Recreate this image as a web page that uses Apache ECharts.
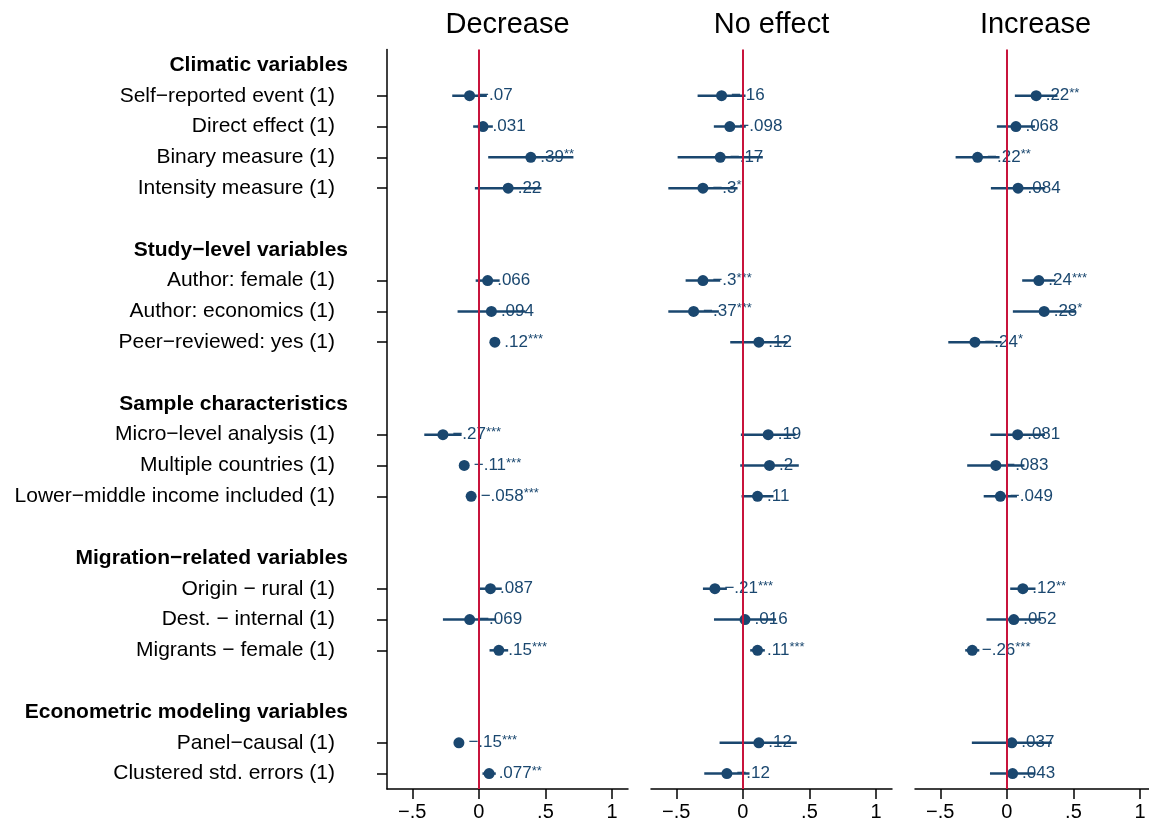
<!DOCTYPE html>
<html>
<head>
<meta charset="utf-8">
<script src="https://cdn.jsdelivr.net/npm/echarts@6/dist/echarts.min.js"></script>
<style>html,body{margin:0;padding:0;background:#fff}#c{width:1149px;height:822px}</style>
</head>
<body>
<div id="c"></div>
<script>
// ---- data ----
const panelTitles = ["Decrease", "No effect", "Increase"];
const groupNames = ["Climatic variables", "Study−level variables", "Sample characteristics", "Migration−related variables", "Econometric modeling variables"];
const groupSizes = [4, 3, 3, 3, 2];
const variables = ["Self−reported event (1)", "Direct effect (1)", "Binary measure (1)", "Intensity measure (1)",
  "Author: female (1)", "Author: economics (1)", "Peer−reviewed: yes (1)",
  "Micro−level analysis (1)", "Multiple countries (1)", "Lower−middle income included (1)",
  "Origin − rural (1)", "Dest. − internal (1)", "Migrants − female (1)",
  "Panel−causal (1)", "Clustered std. errors (1)"];

const decEst = [-0.07, 0.031, 0.39, 0.22, 0.066, 0.094, 0.12, -0.27, -0.11, -0.058, 0.087, -0.069, 0.15, -0.15, 0.077];
const decLo  = [-0.20, -0.043, 0.07, -0.03, -0.024, -0.16, 0.10, -0.41, -0.13, -0.075, 0.002, -0.27, 0.08, -0.17, 0.027];
const decHi  = [0.06, 0.105, 0.71, 0.47, 0.156, 0.35, 0.14, -0.13, -0.09, -0.041, 0.172, 0.13, 0.22, -0.13, 0.127];
const decLab = ["−.07", ".031", ".39**", ".22", ".066", ".094", ".12***", "−.27***", "−.11***", "−.058***", ".087", "−.069", ".15***", "−.15***", ".077**"];

const noEst = [-0.16, -0.098, -0.17, -0.30, -0.30, -0.37, 0.12, 0.19, 0.20, 0.11, -0.21, 0.016, 0.11, 0.12, -0.12];
const noLo  = [-0.34, -0.218, -0.49, -0.56, -0.43, -0.56, -0.095, -0.015, -0.02, -0.01, -0.30, -0.217, 0.055, -0.175, -0.29];
const noHi  = [0.02, 0.022, 0.15, -0.04, -0.17, -0.18, 0.335, 0.395, 0.42, 0.23, -0.12, 0.249, 0.165, 0.405, 0.05];
const noLab = ["−.16", "−.098", "−.17", "−.3*", "−.3***", "−.37***", ".12", ".19", ".2", ".11", "−.21***", ".016", ".11***", ".12", "−.12"];

const incEst = [0.22, 0.068, -0.22, 0.084, 0.24, 0.28, -0.24, 0.081, -0.083, -0.049, 0.12, 0.052, -0.26, 0.037, 0.043];
const incLo  = [0.06, -0.075, -0.385, -0.12, 0.115, 0.045, -0.44, -0.124, -0.298, -0.174, 0.025, -0.153, -0.313, -0.263, -0.127];
const incHi  = [0.38, 0.211, -0.055, 0.288, 0.365, 0.515, -0.04, 0.286, 0.132, 0.076, 0.215, 0.257, -0.207, 0.337, 0.213];
const incLab = [".22**", ".068", "−.22**", ".084", ".24***", ".28*", "−.24*", ".081", "−.083", "−.049", ".12**", ".052", "−.26***", ".037", ".043"];

const xTicks = [-0.5, 0, 0.5, 1];
const xTickLabels = ["−.5", "0", ".5", "1"];

// ---- build categories ----
const categories = [];
const isHeader = [];
const isVar = [];
const varIndex = [];
let vi = 0;
groupNames.forEach((g, gi) => {
  categories.push(g); isHeader.push(true); isVar.push(false);
  for (let k = 0; k < groupSizes[gi]; k++) {
    varIndex.push(categories.length);
    categories.push(variables[vi++]); isHeader.push(false); isVar.push(true);
  }
  if (gi < groupNames.length - 1) {
    categories.push(" ".repeat(gi + 1)); isHeader.push(false); isVar.push(false);
  }
});

const panels = [
  {est: decEst, lo: decLo, hi: decHi, lab: decLab},
  {est: noEst, lo: noLo, hi: noHi, lab: noLab},
  {est: incEst, lo: incLo, hi: incHi, lab: incLab}
];

const navy = '#1a476f';
const red = '#c8143c';
const FF = '"Liberation Sans", Arial, Helvetica, sans-serif';
const gridLefts = [387, 651, 915];
const xMin = -0.69, xMax = 1.12;
const W = 241;
const pxPerUnit = W / (xMax - xMin);
const widths = [W, W, 1149 - 915];

const grids = [], xAxes = [], yAxes = [], series = [], titles = [];
panels.forEach((p, k) => {
  grids.push({left: gridLefts[k], top: 49.5, width: widths[k], height: 740});
  titles.push({
    text: panelTitles[k], left: gridLefts[k] + W / 2, top: 10, textAlign: 'center', padding: 0,
    textStyle: {fontFamily: FF, fontSize: 29, fontWeight: 'normal', color: '#000'}
  });
  xAxes.push({
    type: 'value', gridIndex: k, min: xMin, max: xMin + widths[k] / pxPerUnit,
    axisLine: {show: true, onZero: false, lineStyle: {color: '#000', width: 1.5}},
    axisTick: {show: true, length: 10, lineStyle: {color: '#000', width: 1.5}, customValues: xTicks},
    axisLabel: {
      customValues: xTicks, fontFamily: FF, fontSize: 20, color: '#000', margin: 13,
      formatter: v => { const i = xTicks.findIndex(t => Math.abs(t - v) < 1e-9); return i >= 0 ? xTickLabels[i] : ''; }
    },
    splitLine: {show: false}
  });
  yAxes.push({
    type: 'category', gridIndex: k, data: categories, inverse: true, show: k === 0,
    axisLine: {show: k === 0, onZero: false, lineStyle: {color: '#000', width: 1.5}},
    axisTick: {show: k === 0, length: 10, alignWithLabel: true, interval: (i) => isVar[i], lineStyle: {color: '#000', width: 1.5}},
    axisLabel: {
      show: k === 0, interval: 0, margin: 39,
      formatter: (v, i) => isHeader[i] ? '{h|' + v + '}' : (isVar[i] ? '{v|' + v + '}' : ''),
      rich: {
        h: {fontFamily: FF, fontSize: 21, fontWeight: 'bold', color: '#000'},
        v: {fontFamily: FF, fontSize: 21, color: '#000', padding: [0, 13, 0, 0]}
      }
    },
    splitLine: {show: false}
  });
  // zero line
  series.push({
    type: 'scatter', xAxisIndex: k, yAxisIndex: k, data: [], z: 1, silent: true,
    markLine: {
      silent: true, symbol: ['none', 'none'], label: {show: false}, animation: false,
      lineStyle: {color: red, width: 2, type: 'solid'},
      data: [{xAxis: 0}]
    }
  });
  // CI lines
  series.push({
    type: 'custom', xAxisIndex: k, yAxisIndex: k, z: 2, silent: true,
    data: p.est.map((e, i) => [p.lo[i], p.hi[i], varIndex[i]]),
    encode: {x: [0, 1], y: 2},
    renderItem: (params, api) => {
      const a = api.coord([api.value(0), api.value(2)]);
      const b = api.coord([api.value(1), api.value(2)]);
      return {type: 'line', shape: {x1: a[0], y1: a[1], x2: b[0], y2: b[1]}, style: {stroke: navy, lineWidth: 2.5}};
    }
  });
  // points
  series.push({
    type: 'scatter', xAxisIndex: k, yAxisIndex: k, z: 3, silent: true,
    symbol: 'circle', symbolSize: 11,
    itemStyle: {color: navy, opacity: 1},
    data: p.est.map((e, i) => [e, varIndex[i]]),
    label: {
      show: true, position: 'right', distance: 4,
      formatter: (prm) => {
        const s = p.lab[prm.dataIndex];
        const m = s.match(/^([^*]*)(\**)$/);
        return '{n|' + m[1] + '}' + (m[2] ? '{s|' + m[2] + '}' : '');
      },
      rich: {
        n: {fontFamily: FF, fontSize: 17, color: navy},
        s: {fontFamily: FF, fontSize: 13, color: navy, padding: [0, 0, 5, 0]}
      }
    }
  });
});

const chart = echarts.init(document.getElementById('c'), null, {renderer: 'canvas'});
chart.setOption({
  animation: false,
  backgroundColor: '#fff',
  title: titles,
  grid: grids,
  xAxis: xAxes,
  yAxis: yAxes,
  series: series
});
</script>
</body>
</html>
